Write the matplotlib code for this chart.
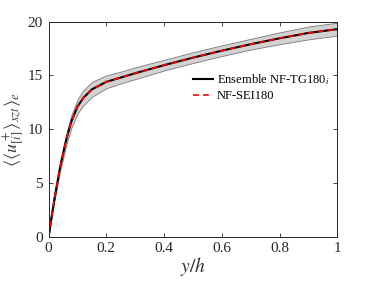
import matplotlib
matplotlib.use('Agg')
import matplotlib.pyplot as plt
import numpy as np

plt.rcParams['font.family'] = ['Liberation Serif', 'DejaVu Serif']
plt.rcParams['mathtext.fontset'] = 'stix'

# data
yh = [0, 0.01, 0.02, 0.03, 0.04, 0.05, 0.06, 0.07, 0.08, 0.10, 0.12, 0.15,
      0.20, 0.25, 0.30, 0.40, 0.50, 0.60, 0.70, 0.80, 0.90, 1.00]
u_ens = [0, 1.8, 3.5, 5.0, 6.5, 7.7, 8.9, 9.9, 10.8, 12.1, 12.9, 13.7,
         14.4, 14.8, 15.2, 15.95, 16.65, 17.3, 17.9, 18.45, 18.95, 19.3]
u_sd = [0, 0.1, 0.2, 0.3, 0.35, 0.45, 0.5, 0.55, 0.6, 0.65, 0.7, 0.7,
        0.6, 0.55, 0.55, 0.5, 0.5, 0.5, 0.5, 0.55, 0.6, 0.6]
u_sei = u_ens

yh = np.array(yh)
u_ens = np.array(u_ens)
u_sd = np.array(u_sd)

fig = plt.figure(figsize=(3.74, 2.81), dpi=100)
ax = fig.add_axes([0.130, 0.158, 0.772, 0.765])

ax.fill_between(yh, u_ens - u_sd, u_ens + u_sd, facecolor='#d2d2d2',
                edgecolor='#7a7a7a', linewidth=0.6)
ax.plot(yh, u_ens, color='black', lw=1.5, label=r'Ensemble NF-TG180$_i$')
ax.plot(yh, u_sei, color='red', lw=1.2, ls=(0, (3.5, 2.5)), label='NF-SEI180')

ax.set_xlim(0, 1)
ax.set_ylim(0, 20)
ax.set_xticks([0, 0.2, 0.4, 0.6, 0.8, 1])
ax.set_xticklabels(['0', '0.2', '0.4', '0.6', '0.8', '1'])
ax.set_yticks([0, 5, 10, 15, 20])
ax.tick_params(direction='in', top=True, right=True, length=3, width=0.6,
               labelsize=11, colors='#262626', pad=4)
for s in ax.spines.values():
    s.set_color('#262626')
    s.set_linewidth(0.7)

ax.set_xlabel(r'$y/h$', fontsize=14, color='#303030', labelpad=0)
ax.set_ylabel(r'$\langle\langle u^+_{[i]}\rangle_{xzt}\rangle_e$', fontsize=13,
              color='#404040', labelpad=1)

ax.legend(loc='upper left', bbox_to_anchor=(0.50, 0.765), frameon=False,
          fontsize=9, borderpad=0, borderaxespad=0, handlelength=1.6,
          handletextpad=0.3, labelspacing=0.25)

fig.savefig('out.png', dpi=100)
